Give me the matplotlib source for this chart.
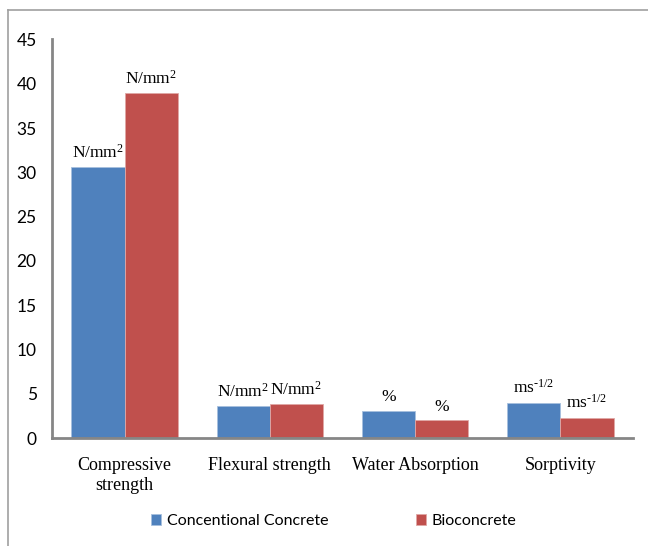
import numpy as np
import matplotlib.pyplot as plt
from matplotlib.lines import Line2D

plt.rcParams['mathtext.fontset'] = 'custom'
plt.rcParams['mathtext.rm'] = 'Liberation Serif'
plt.rcParams['mathtext.it'] = 'Liberation Serif:italic'

categories = ['Compressive\nstrength', 'Flexural strength', 'Water Absorption', 'Sorptivity']
conventional = [30.6, 3.6, 3.1, 4.0]
bioconcrete = [38.9, 3.8, 2.0, 2.3]
units_conv = ['N/mm$^2$', 'N/mm$^2$', '%', 'ms$^{\u20101/2}$']
units_bio = ['N/mm$^2$', 'N/mm$^2$', '%', 'ms$^{\u20101/2}$']
series_names = ['Concentional Concrete', 'Bioconcrete']

blue = '#4F81BD'
red = '#C0504D'
grey = '#868686'

fig = plt.figure(figsize=(6.48, 5.46), dpi=100)
ax = fig.add_axes([0.0802, 0.1978, 0.8966, 0.7299])

x = np.arange(len(categories))
w = 0.366
b1 = ax.bar(x - w/2, conventional, w, color=blue, edgecolor='#A7C0DE', linewidth=0.6, label=series_names[0])
b2 = ax.bar(x + w/2, bioconcrete, w, color=red, edgecolor='#E0A8A6', linewidth=0.6, label=series_names[1])

# unit labels above the bars
for bars, units in ((b1, units_conv), (b2, units_bio)):
    for rect, u in zip(bars, units):
        ax.annotate(u, (rect.get_x() + rect.get_width()/2, rect.get_height()),
                    xytext=(0, 4), textcoords='offset points', ha='center', va='bottom',
                    fontsize=12.5, family='Liberation Serif')

ax.set_xlim(-0.5, 3.5)
ax.set_ylim(0, 45)
ax.set_yticks(range(0, 46, 5))
ax.set_xticks(x)
ax.set_xticklabels(categories, family='Liberation Serif', fontsize=13, linespacing=1.2)
for t in ax.get_yticklabels():
    t.set_family('Lato')
    t.set_fontsize(12.5)
ax.tick_params(axis='both', length=0)
ax.tick_params(axis='y', pad=11)
ax.tick_params(axis='x', pad=14)

for s in ['top', 'right']:
    ax.spines[s].set_visible(False)
for s in ['left', 'bottom']:
    ax.spines[s].set_color(grey)
    ax.spines[s].set_linewidth(2)

leg = fig.legend(handles=[b1, b2], labels=series_names, loc='center', bbox_to_anchor=(0.515, 0.045),
                 ncol=2, frameon=False, handlelength=0.65, handleheight=0.65, handletextpad=0.35,
                 columnspacing=5.5, prop={'family': 'Lato', 'size': 11.5})

# chart border (only top and left visible in the crop)
fig.add_artist(Line2D([8/648, 8/648], [0, 1 - 10/546], color='#A0A0A0', lw=1.2, transform=fig.transFigure))
fig.add_artist(Line2D([8/648, 1], [1 - 10/546, 1 - 10/546], color='#A0A0A0', lw=1.2, transform=fig.transFigure))

fig.savefig('out.png', dpi=100)
